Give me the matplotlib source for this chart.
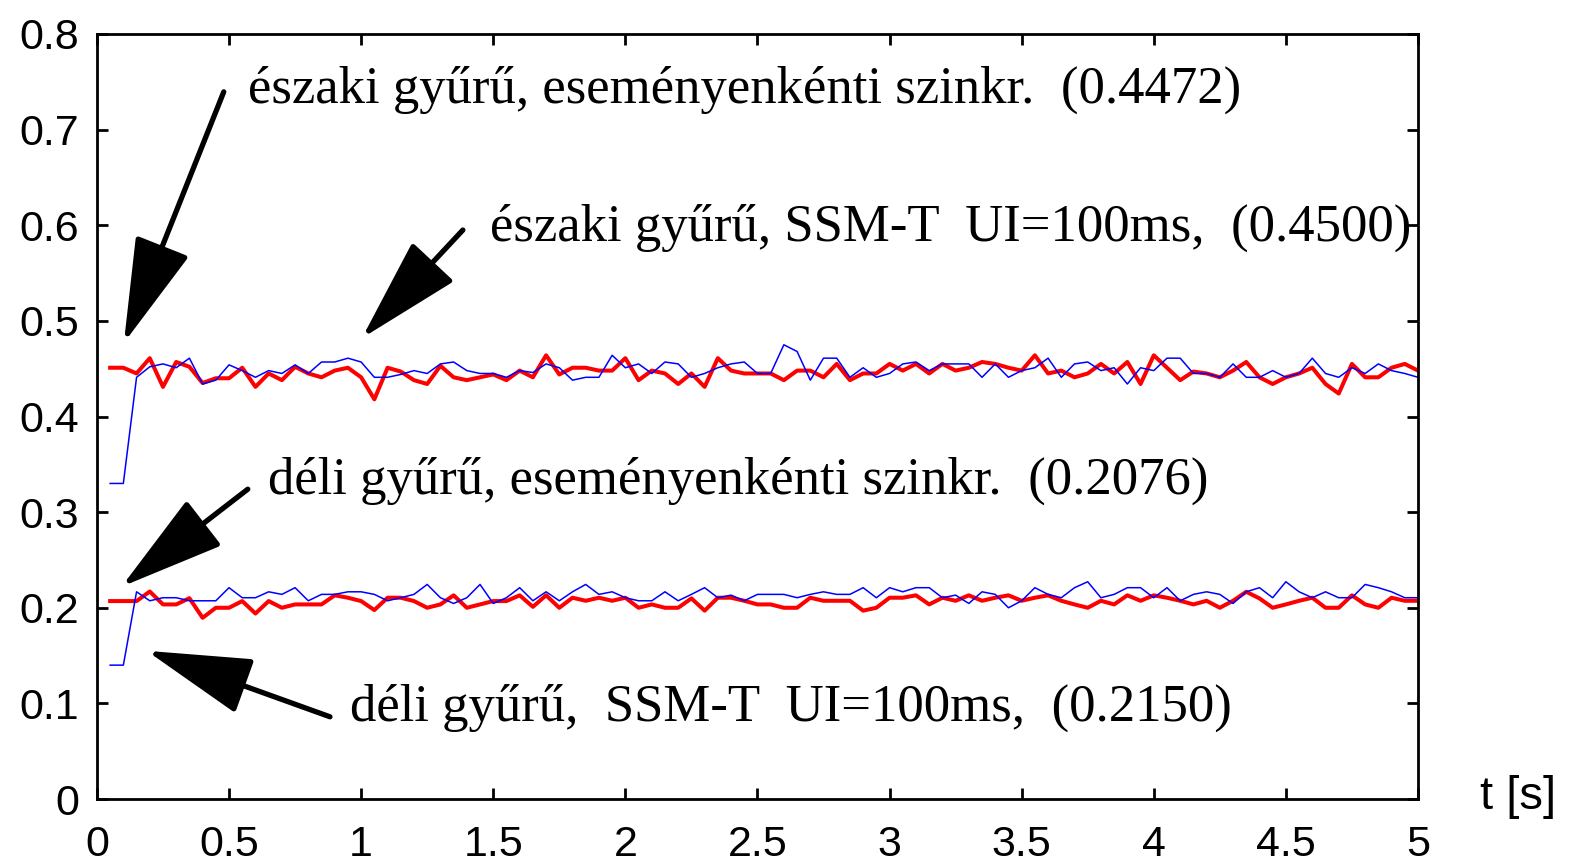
import numpy as np
import matplotlib
matplotlib.use('Agg')
import matplotlib.pyplot as plt

# idopontok: 0.05 s lepes, 0.05 .. 5.00
t = np.round(np.arange(1, 101) * 0.05, 2)

# eszaki gyuru, esemenyenkenti szinkr. (piros)
north_event = [
    0.451, 0.451, 0.445, 0.461, 0.431, 0.457, 0.452, 0.435, 0.440, 0.440,
    0.451, 0.431, 0.445, 0.438, 0.452, 0.445, 0.441, 0.448, 0.451, 0.441,
    0.418, 0.451, 0.447, 0.438, 0.434, 0.453, 0.441, 0.438, 0.441, 0.444,
    0.438, 0.448, 0.441, 0.464, 0.444, 0.451, 0.451, 0.448, 0.448, 0.461,
    0.438, 0.448, 0.445, 0.434, 0.445, 0.431, 0.461, 0.448, 0.445, 0.445,
    0.445, 0.438, 0.448, 0.448, 0.441, 0.455, 0.438, 0.445, 0.445, 0.455,
    0.448, 0.455, 0.445, 0.455, 0.448, 0.451, 0.457, 0.455, 0.451, 0.448,
    0.464, 0.445, 0.448, 0.441, 0.445, 0.455, 0.445, 0.457, 0.434, 0.464,
    0.451, 0.438, 0.447, 0.445, 0.441, 0.448, 0.457, 0.441, 0.434, 0.441,
    0.445, 0.451, 0.434, 0.424, 0.455, 0.441, 0.441, 0.451, 0.455, 0.448,
]

# eszaki gyuru, SSM-T UI=100ms (kek)
north_ssmt = [
    0.330, 0.330, 0.441, 0.452, 0.455, 0.451, 0.461, 0.434, 0.438, 0.454,
    0.448, 0.441, 0.448, 0.445, 0.454, 0.445, 0.457, 0.457, 0.461, 0.457,
    0.441, 0.441, 0.444, 0.448, 0.445, 0.455, 0.457, 0.448, 0.445, 0.445,
    0.441, 0.448, 0.446, 0.455, 0.451, 0.438, 0.441, 0.441, 0.464, 0.451,
    0.455, 0.445, 0.457, 0.455, 0.441, 0.445, 0.451, 0.455, 0.457, 0.445,
    0.445, 0.475, 0.468, 0.438, 0.461, 0.461, 0.441, 0.451, 0.441, 0.445,
    0.455, 0.457, 0.448, 0.455, 0.455, 0.455, 0.441, 0.455, 0.441, 0.448,
    0.451, 0.461, 0.441, 0.455, 0.457, 0.448, 0.451, 0.434, 0.451, 0.448,
    0.461, 0.461, 0.445, 0.445, 0.441, 0.455, 0.441, 0.441, 0.448, 0.441,
    0.445, 0.461, 0.445, 0.441, 0.451, 0.445, 0.455, 0.448, 0.445, 0.441,
]

# deli gyuru, esemenyenkenti szinkr. (piros)
south_event = [
    0.207, 0.207, 0.207, 0.217, 0.2035, 0.2035, 0.210, 0.1895, 0.200, 0.200,
    0.207, 0.194, 0.207, 0.200, 0.2035, 0.2035, 0.2035, 0.213, 0.2105, 0.207,
    0.1976, 0.2105, 0.2105, 0.207, 0.200, 0.2035, 0.213, 0.200, 0.2035, 0.207,
    0.207, 0.213, 0.201, 0.213, 0.200, 0.2105, 0.2073, 0.2105, 0.2073, 0.2105,
    0.200, 0.2035, 0.200, 0.200, 0.2098, 0.197, 0.2105, 0.2105, 0.2073, 0.2035,
    0.2035, 0.200, 0.200, 0.2105, 0.2073, 0.2073, 0.2073, 0.197, 0.200, 0.2105,
    0.2105, 0.213, 0.2035, 0.2105, 0.2073, 0.213, 0.2073, 0.2105, 0.213, 0.2073,
    0.2105, 0.213, 0.2073, 0.2035, 0.200, 0.2073, 0.2035, 0.213, 0.2073, 0.213,
    0.2105, 0.2073, 0.2035, 0.2073, 0.200, 0.2073, 0.2167, 0.2098, 0.200, 0.2035,
    0.2073, 0.2105, 0.200, 0.200, 0.213, 0.2035, 0.200, 0.2105, 0.2073, 0.2073,
]

# deli gyuru, SSM-T UI=100ms (kek)
south_ssmt = [
    0.140, 0.140, 0.2167, 0.2073, 0.2105, 0.2105, 0.2073, 0.2073, 0.2073, 0.221,
    0.2105, 0.2105, 0.2167, 0.214, 0.221, 0.2073, 0.214, 0.214, 0.2167, 0.2167,
    0.214, 0.2073, 0.2105, 0.214, 0.2244, 0.2105, 0.2045, 0.2105, 0.2244, 0.2045,
    0.2105, 0.221, 0.2073, 0.2167, 0.2073, 0.2167, 0.2244, 0.214, 0.2167, 0.2105,
    0.2073, 0.2073, 0.2167, 0.2073, 0.214, 0.221, 0.2105, 0.2132, 0.2073, 0.214,
    0.214, 0.214, 0.2105, 0.214, 0.2167, 0.214, 0.214, 0.221, 0.2105, 0.221,
    0.2167, 0.221, 0.221, 0.2105, 0.2132, 0.2045, 0.2167, 0.214, 0.200, 0.2073,
    0.221, 0.214, 0.2105, 0.221, 0.2272, 0.2105, 0.214, 0.221, 0.221, 0.2105,
    0.221, 0.2073, 0.214, 0.2167, 0.214, 0.2045, 0.2167, 0.221, 0.2105, 0.2272,
    0.2167, 0.2105, 0.2167, 0.2105, 0.2105, 0.2244, 0.221, 0.2167, 0.2105, 0.2105,
]

labels = [
    'északi gyűrű, eseményenkénti szinkr.  (0.4472)',
    'északi gyűrű, SSM-T  UI=100ms,  (0.4500)',
    'déli gyűrű, eseményenkénti szinkr.  (0.2076)',
    'déli gyűrű,  SSM-T  UI=100ms,  (0.2150)',
]

fig = plt.figure(figsize=(15.71, 8.67), dpi=100)
ax = fig.add_axes([0.0617, 0.0784, 0.8409, 0.8824])

ax.plot(t, north_event, color='red', lw=2.9)
ax.plot(t, north_ssmt, color='blue', lw=1.1)
ax.plot(t, south_event, color='red', lw=2.9)
ax.plot(t, south_ssmt, color='blue', lw=1.1)

ax.set_xlim(0, 5)
ax.set_ylim(0, 0.8)
ax.set_xticks(np.arange(0, 5.01, 0.5))
ax.set_xticklabels(['0', '0.5', '1', '1.5', '2', '2.5', '3', '3.5', '4', '4.5', '5'])
ax.set_yticks(np.arange(0, 0.81, 0.1))
ax.set_yticklabels(['0', '0.1', '0.2', '0.3', '0.4', '0.5', '0.6', '0.7', '0.8'])
ax.tick_params(direction='in', length=8, width=2, top=True, right=True,
               labelsize=31)
ax.tick_params(axis='x', pad=19)
ax.tick_params(axis='y', pad=13)
for lab in ax.get_xticklabels() + ax.get_yticklabels():
    lab.set_fontfamily('Liberation Sans')
for sp in ax.spines.values():
    sp.set_linewidth(2)

fig.text(0.9905, 0.081, 't [s]', fontsize=34, family='Liberation Sans',
         ha='right', va='center')

# nyilak + feliratok (szoveg helye, nyilhegy helye)
arr = dict(arrowstyle='-|>,head_length=3.3,head_width=0.9', color='black',
           lw=3.8, mutation_scale=20, shrinkA=0, shrinkB=0)
szoveg = dict(fontsize=38, family='Liberation Serif', va='center', ha='left')

ax.annotate('', xy=(0.102, 0.477), xytext=(0.48, 0.7395), arrowprops=arr)
ax.text(0.572, 0.7416, labels[0], **szoveg)

ax.annotate('', xy=(1.003, 0.482), xytext=(1.385, 0.595), arrowprops=arr)
ax.text(1.487, 0.597, labels[1], **szoveg)

ax.annotate('', xy=(0.093, 0.222), xytext=(0.571, 0.324), arrowprops=arr)
ax.text(0.647, 0.333, labels[2], **szoveg)

ax.annotate('', xy=(0.188, 0.155), xytext=(0.882, 0.086), arrowprops=arr)
ax.text(0.958, 0.095, labels[3], **szoveg)

fig.savefig('out.png', dpi=100)
